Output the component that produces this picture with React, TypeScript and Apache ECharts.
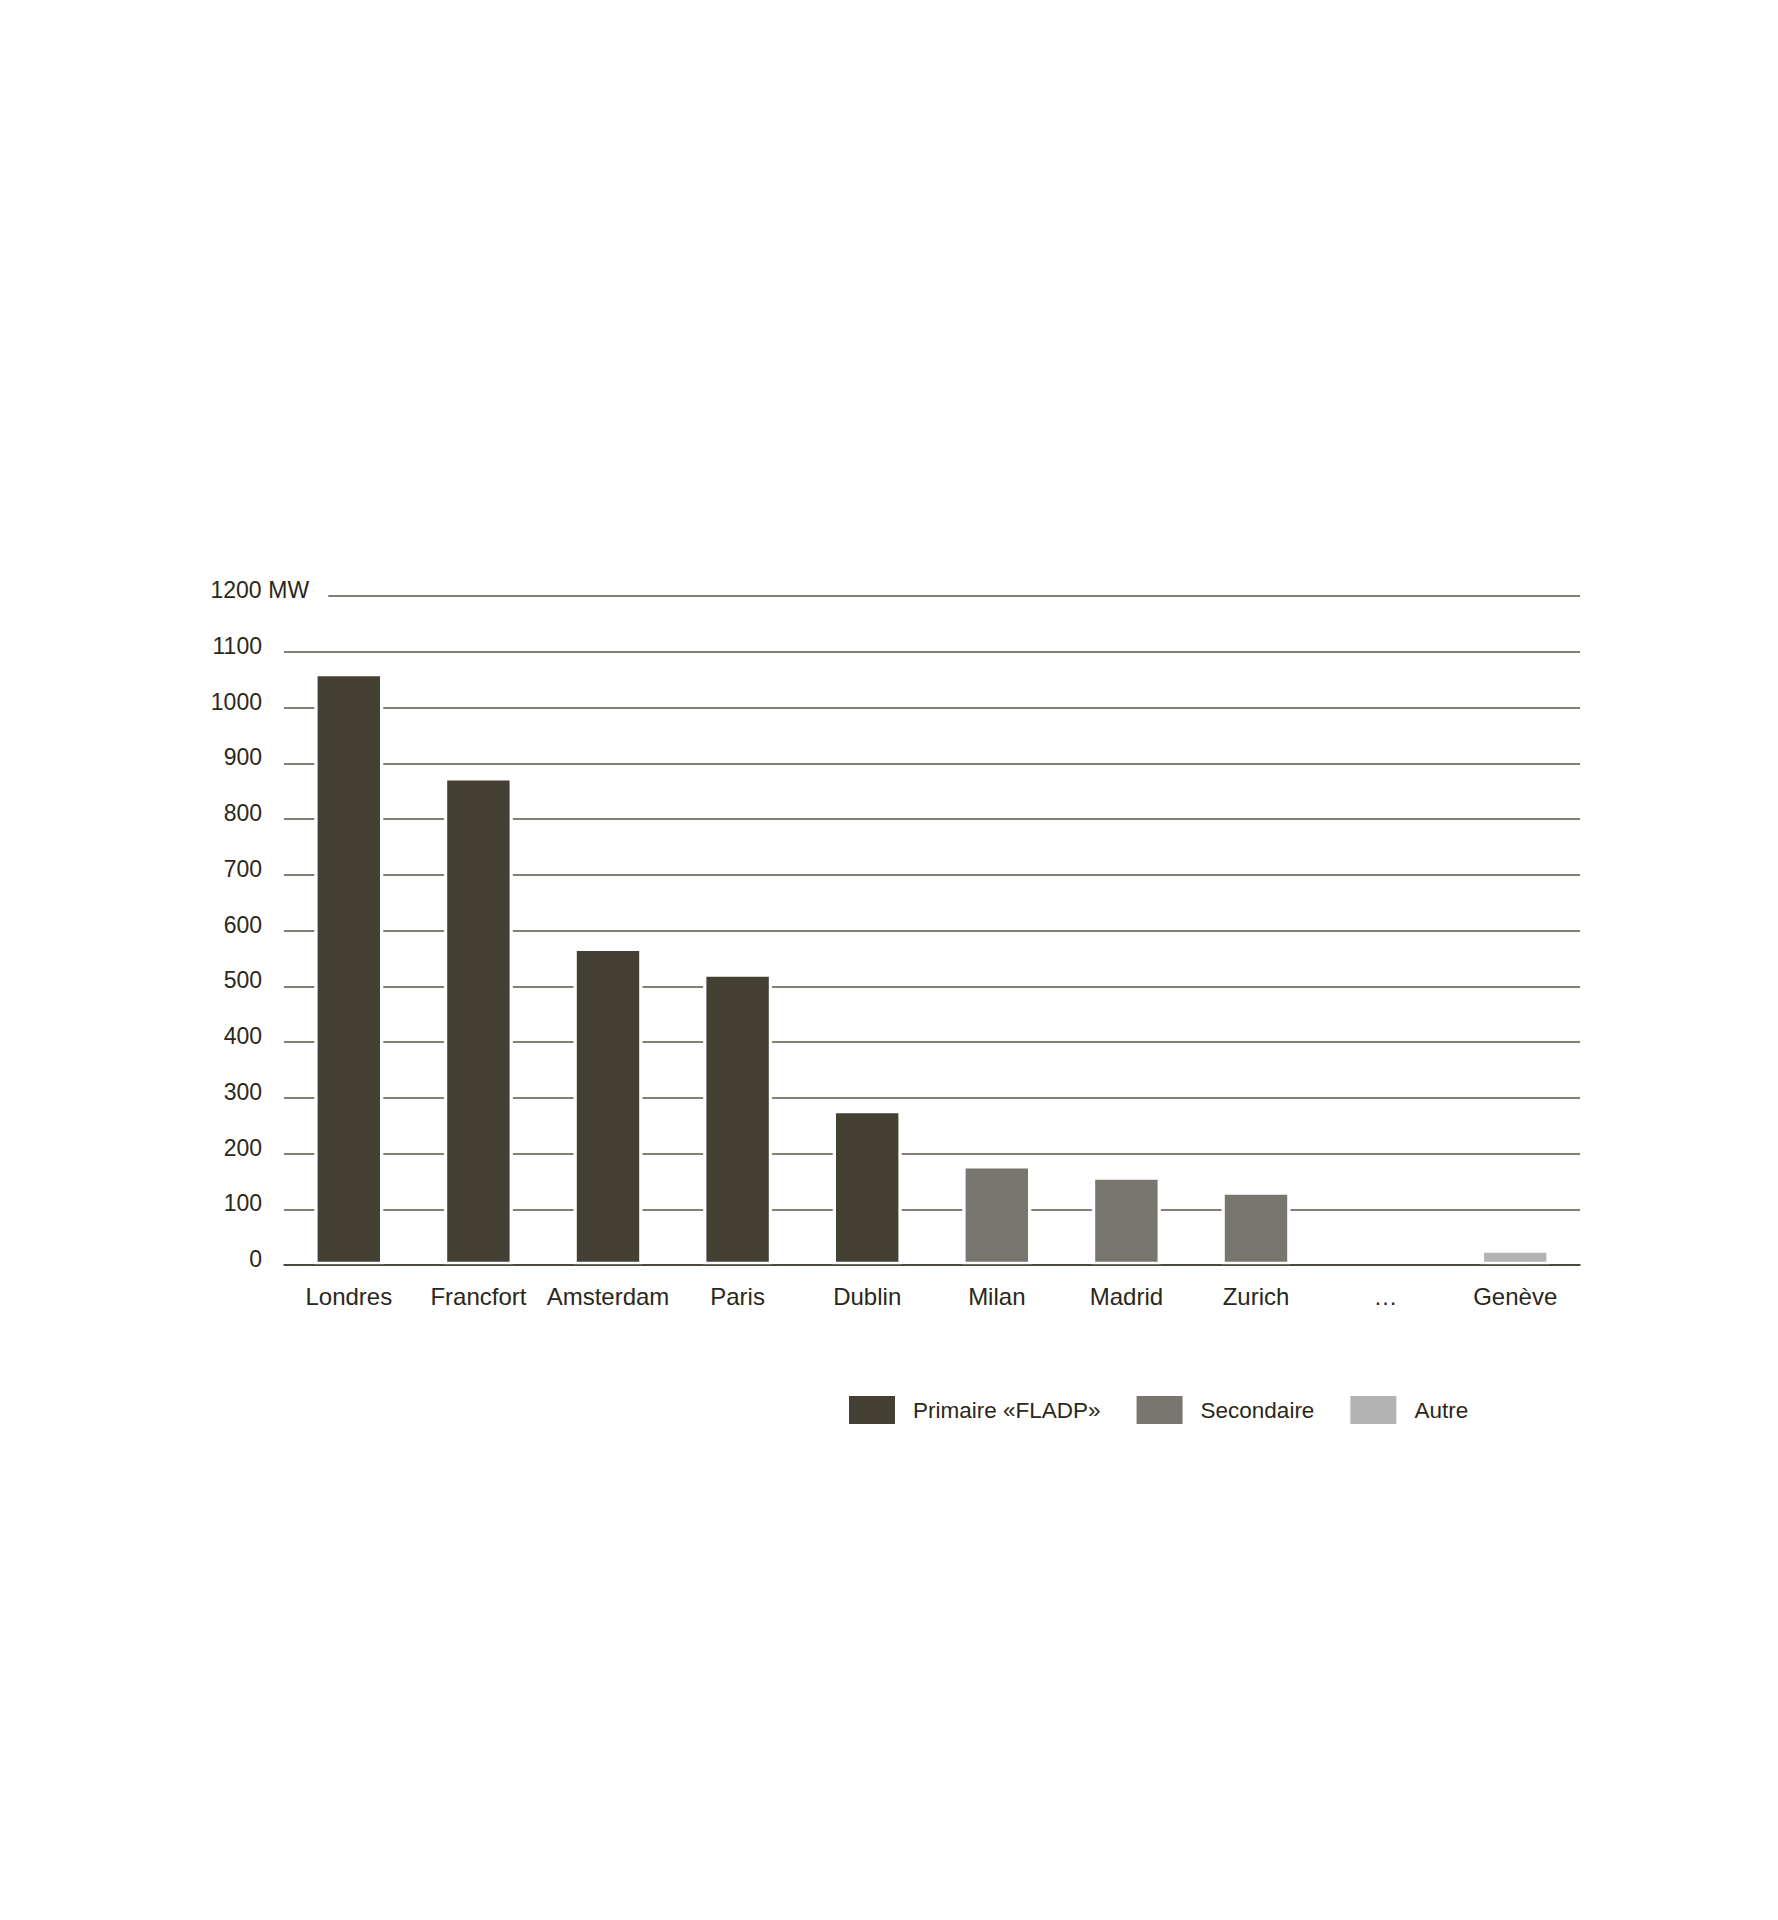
import { useEffect, useRef } from "react";
import * as echarts from "echarts";

const categories = [
  "Londres",
  "Francfort",
  "Amsterdam",
  "Paris",
  "Dublin",
  "Milan",
  "Madrid",
  "Zurich",
  "…",
  "Genève",
];
const primaryValues = [1062, 875, 569, 523, 278, null, null, null, null, null];
const secondaryValues = [null, null, null, null, null, 179, 159, 132, null, null];
const otherValues = [null, null, null, null, null, null, null, null, null, 28];
const seriesNames = ["Primaire «FLADP»", "Secondaire", "Autre"];
const unitLabel = "MW";
const edgeLetters = ["C", "V"];

const TEXT = "#2b2719";
const FONT = "'Liberation Sans', Arial, sans-serif";

const App = () => {
  const chartRef = useRef<HTMLDivElement | null>(null);

  useEffect(() => {
    if (!chartRef.current) {
      return;
    }
    const instance = echarts.init(chartRef.current, undefined, {
      renderer: "svg",
    });

    const barStyle = (color: string) => ({
      color,
      borderColor: "#ffffff",
      borderWidth: 3.3,
    });

    const option: echarts.EChartsOption = {
      animation: false,
      backgroundColor: "#ffffff",
      textStyle: { color: TEXT, fontFamily: FONT },
      grid: {
        left: 276,
        right: 198,
        top: 588,
        bottom: 647,
        containLabel: false,
      },
      legend: {
        data: seriesNames,
        left: 836,
        top: 1383,
        icon: "rect",
        itemWidth: 46,
        itemHeight: 28,
        itemGap: 36,
        itemStyle: { borderWidth: 0 },
        textStyle: {
          color: TEXT,
          fontSize: 22.5,
          fontFamily: FONT,
          padding: [0, 0, 0, 13],
        },
      },
      xAxis: {
        type: "category",
        data: categories,
        z: 5,
        axisTick: { show: false },
        axisLine: { lineStyle: { color: "#3d3829", width: 1.5 } },
        axisLabel: {
          color: TEXT,
          fontSize: 24,
          fontFamily: FONT,
          margin: 19,
          interval: 0,
        },
        splitLine: { show: false },
      },
      yAxis: {
        type: "value",
        min: 0,
        max: 1200,
        interval: 100,
        axisLine: { show: false },
        axisTick: { show: false },
        axisLabel: {
          align: "left",
          margin: 74,
          padding: [0, 0, 12, 0],
          formatter: (value: number) =>
            value === 1200
              ? `{v|${value}}{u| ${unitLabel}}`
              : `{v|${value}}`,
          rich: {
            v: {
              width: 52,
              align: "right",
              fontSize: 23,
              color: TEXT,
              fontFamily: FONT,
            },
            u: {
              fontSize: 23,
              color: TEXT,
              fontFamily: FONT,
              backgroundColor: "#ffffff",
              padding: [6, 19, 6, 0],
            },
          },
        },
        splitLine: {
          show: true,
          lineStyle: { color: "#5a5546", width: 1.5 },
        },
      },
      series: [
        {
          name: seriesNames[0],
          type: "bar",
          data: primaryValues,
          barWidth: 69,
          barGap: "-100%",
          itemStyle: barStyle("#454034"),
        },
        {
          name: seriesNames[1],
          type: "bar",
          data: secondaryValues,
          barWidth: 69,
          barGap: "-100%",
          itemStyle: barStyle("#79756f"),
        },
        {
          name: seriesNames[2],
          type: "bar",
          data: otherValues,
          barWidth: 69,
          barGap: "-100%",
          itemStyle: barStyle("#b3b3b3"),
        },
      ],
      graphic: [
        {
          type: "text",
          x: 1761,
          y: 543,
          style: {
            text: edgeLetters[0],
            font: `bold 30px ${FONT}`,
            fill: TEXT,
            verticalAlign: "middle",
          },
        },
        {
          type: "line",
          shape: { x1: 1765, y1: 579, x2: 1770, y2: 579 },
          style: { stroke: TEXT, lineWidth: 2 },
        },
        {
          type: "text",
          x: 1763,
          y: 674,
          style: {
            text: edgeLetters[1],
            font: `bold 26px ${FONT}`,
            fill: TEXT,
            verticalAlign: "middle",
          },
        },
        {
          type: "line",
          shape: { x1: 1765, y1: 717, x2: 1770, y2: 717 },
          style: { stroke: TEXT, lineWidth: 2 },
        },
      ],
    };

    instance.setOption(option, true);

    const handleResize = () => instance.resize();
    window.addEventListener("resize", handleResize);

    return () => {
      window.removeEventListener("resize", handleResize);
      instance.dispose();
    };
  }, []);

  return <div ref={chartRef} style={{ width: 1770, height: 1904 }} />;
};

export default App;
